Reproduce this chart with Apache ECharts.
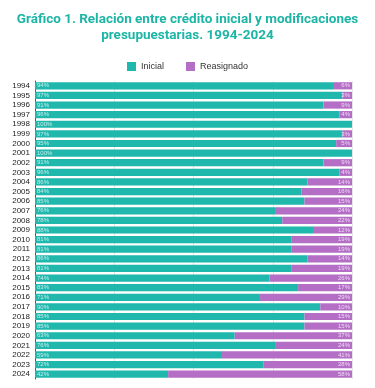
<!DOCTYPE html>
<html>
<head>
<meta charset="utf-8">
<script src="https://cdn.jsdelivr.net/npm/echarts@6/dist/echarts.min.js"></script>
<style>html,body{margin:0;padding:0;background:#fff}#c{width:375px;height:388px}</style>
</head>
<body>
<div id="c"></div>
<script>
const years = ['1994','1995','1996','1997','1998','1999','2000','2001','2002','2003','2004','2005','2006','2007','2008','2009','2010','2011','2012','2013','2014','2015','2016','2017','2018','2019','2020','2021','2022','2023','2024'];
const inicial = [94,97,91,96,100,97,95,100,91,96,86,84,85,76,78,88,81,81,86,81,74,83,71,90,85,85,63,76,59,72,42];
const reasignado = [6,3,9,4,0,3,5,0,9,4,14,16,15,24,22,12,19,19,14,19,26,17,29,10,15,15,37,24,41,28,58];

const chart = echarts.init(document.getElementById('c'));
chart.setOption({
  animation: false,
  title: {
    text: 'Gráfico 1. Relación entre crédito inicial y modificaciones\npresupuestarias. 1994-2024',
    left: 'center', top: 7,
    textStyle: {color: '#1db5a6', fontSize: 13.5, fontWeight: 'bold', fontFamily: 'Roboto', lineHeight: 16}
  },
  legend: {
    top: 57, left: 'center', itemWidth: 9, itemHeight: 9, itemGap: 22, icon: 'rect',
    textStyle: {fontSize: 9, color: '#333', fontFamily: 'Liberation Sans'},
    data: ['Inicial','Reasignado']
  },
  grid: {left: 35, right: 23, top: 81, bottom: 9, containLabel: false},
  xAxis: {
    type: 'value', min: 0, max: 100, interval: 25,
    axisLabel: {show: false}, axisLine: {show: false}, axisTick: {show: false},
    splitLine: {lineStyle: {color: '#e6e6e6'}}
  },
  yAxis: {
    type: 'category', data: years, inverse: true,
    axisLine: {lineStyle: {color: '#555'}}, axisTick: {show: false},
    axisLabel: {interval: 0, fontSize: 8, color: '#222', fontFamily: 'Liberation Sans', margin: 5}
  },
  series: [
    {
      name: 'Inicial', type: 'bar', stack: 't', data: inicial, barWidth: '75%',
      itemStyle: {color: '#20b8ad'},
      label: {show: true, position: 'insideLeft', formatter: p => p.value + '%', fontSize: 6, color: 'rgba(255,255,255,0.75)', distance: 2, fontFamily: 'Liberation Sans'}
    },
    {
      name: 'Reasignado', type: 'bar', stack: 't', data: reasignado, barWidth: '75%',
      itemStyle: {color: '#b56ec6'},
      label: {show: true, position: 'insideRight', formatter: p => p.value > 0 ? p.value + '%' : '', fontSize: 6, color: 'rgba(255,255,255,0.75)', distance: 2, fontFamily: 'Liberation Sans'}
    }
  ]
});
</script>
</body>
</html>
